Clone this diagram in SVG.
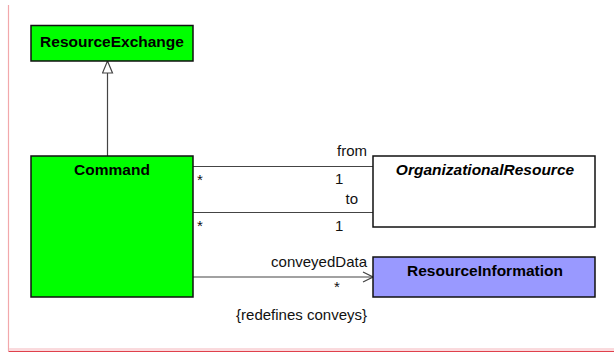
<svg xmlns="http://www.w3.org/2000/svg" width="614" height="354" viewBox="0 0 614 354">
<style>
.box{stroke:#111;stroke-width:1.5}
.bold{font-family:"Liberation Sans",Arial,sans-serif;font-weight:bold;font-size:15.5px;fill:#000}
.lbl{font-family:"Liberation Sans",Arial,sans-serif;font-size:15px;fill:#111}
.conn{stroke:#444;stroke-width:1.2;fill:none}
</style>
<defs>
<marker id="gen" markerWidth="14" markerHeight="12" refX="13" refY="6" orient="auto" markerUnits="userSpaceOnUse">
<path d="M1,1 L13,6 L1,11 Z" fill="#fff" stroke="#444" stroke-width="1.2"/>
</marker>
<marker id="open" markerWidth="12" markerHeight="12" refX="11" refY="6" orient="auto" markerUnits="userSpaceOnUse">
<path d="M1,1 L11,6 L1,11" fill="none" stroke="#444" stroke-width="1.2"/>
</marker>
</defs>
<rect width="614" height="354" fill="#fff"/>
<g id="frame">
<line x1="8.5" y1="5" x2="8.5" y2="351" stroke="#f2a8ab" stroke-width="1.2"/>
<rect x="9" y="348" width="605" height="3" fill="#fadadd"/>
<line x1="8.5" y1="351.5" x2="614" y2="351.5" stroke="#e0404c" stroke-width="1.2"/>
</g>
<g id="connectors">
<line class="conn" x1="107.5" y1="156" x2="107.5" y2="61" marker-end="url(#gen)"/>
<line class="conn" x1="193" y1="166.5" x2="373" y2="166.5"/>
<line class="conn" x1="193" y1="212.5" x2="373" y2="212.5"/>
<line class="conn" x1="193" y1="277" x2="373" y2="277" marker-end="url(#open)"/>
<text class="lbl" x="367" y="156" text-anchor="end">from</text>
<text class="lbl" x="197" y="185">*</text>
<text class="lbl" x="335" y="184">1</text>
<text class="lbl" x="358" y="204" text-anchor="end">to</text>
<text class="lbl" x="197" y="231">*</text>
<text class="lbl" x="335" y="231">1</text>
<text class="lbl" x="367" y="267" text-anchor="end">conveyedData</text>
<text class="lbl" x="334" y="292">*</text>
<text class="lbl" x="367" y="320" text-anchor="end">{redefines conveys}</text>
</g>
<g id="ResourceExchange">
<rect class="box" x="31" y="25.5" width="162" height="35.5" fill="#00ff00"/>
<text class="bold" x="112" y="47" text-anchor="middle">ResourceExchange</text>
</g>
<g id="Command">
<rect class="box" x="31" y="156" width="162" height="141" fill="#00ff00"/>
<text class="bold" x="112" y="175" text-anchor="middle">Command</text>
</g>
<g id="OrganizationalResource">
<rect class="box" x="373" y="156" width="222" height="71" fill="#fff"/>
<text class="bold" x="485" y="175" text-anchor="middle" font-style="italic">OrganizationalResource</text>
</g>
<g id="ResourceInformation">
<rect class="box" x="373" y="257" width="222" height="40" fill="#9999ff"/>
<text class="bold" x="485" y="276" text-anchor="middle">ResourceInformation</text>
</g>
</svg>
